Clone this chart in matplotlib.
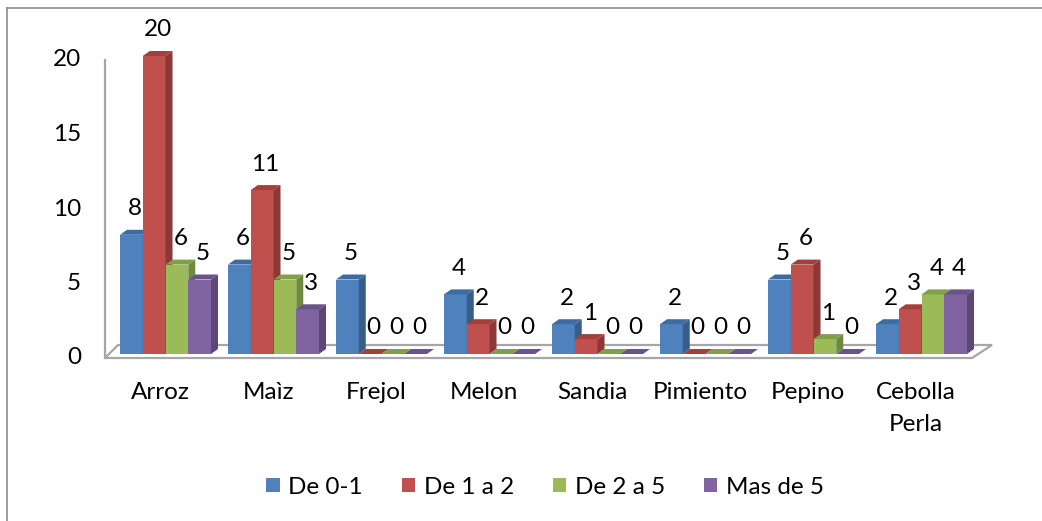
import numpy as np
import matplotlib.pyplot as plt
from matplotlib.patches import Polygon, Rectangle, Patch
from matplotlib.lines import Line2D

plt.rcParams['font.family'] = ['Lato', 'DejaVu Sans']

# datos
categorias = ['Arroz', 'Maìz', 'Frejol', 'Melon', 'Sandia', 'Pimiento', 'Pepino', 'Cebolla\nPerla']
series = ['De 0-1', 'De 1 a 2', 'De 2 a 5', 'Mas de 5']
de_0_1 = [8, 6, 5, 4, 2, 2, 5, 2]
de_1_2 = [20, 11, 0, 2, 1, 0, 6, 3]
de_2_5 = [6, 5, 0, 0, 0, 0, 1, 4]
mas_5 = [5, 3, 0, 0, 0, 0, 0, 4]
valores = [de_0_1, de_1_2, de_2_5, mas_5]

frente = ['#4F81BD', '#C0504D', '#9BBB59', '#8064A2']
lado = ['#385D8A', '#8C3836', '#71893F', '#5C4776']
arriba = ['#3D6CA3', '#A53F3C', '#7FA046', '#6A528A']

FS = 17.5

fig = plt.figure(figsize=(10.42, 5.21), dpi=100)
# y=0 en 354 px, y=20 en 56 px; x de -0.5 a 7.5 entre 111.5 y 975.5 px
ax = fig.add_axes([111.5 / 1042, (521 - 354) / 521, 864 / 1042, 298 / 521])
ax.set_xlim(-0.5, 7.5)
ax.set_ylim(0, 20)
ax.axis('off')

px_x = 1 / 108.0
px_y = 20 / 298.0
w = 22.75 * px_x
dx, dy = 7 * px_x, 5 * px_y

# suelo
x_l, x_r = (105 - 165.5) * px_x, (972 - 165.5) * px_x
bx_l, bx_r = (118 - 165.5) * px_x, (992 - 165.5) * px_x
y_f, y_b = -4 * px_y, 9 * px_y
ax.add_patch(Polygon([(x_l, y_f), (x_r, y_f), (bx_r, y_b), (bx_l, y_b)],
                     closed=True, facecolor='white', edgecolor='#A6A6A6', lw=1.6, clip_on=False, zorder=1))
ax.add_line(Line2D([x_l, x_l], [y_f, 20 - 4 * px_y], color='#A6A6A6', lw=1.6, clip_on=False, zorder=1))

# etiquetas eje y
for v in range(0, 21, 5):
    ax.text((81 - 165.5) * px_x, v - 4 * px_y, str(v), ha='right', va='center', fontsize=FS, clip_on=False)

z = 2
for i in range(len(categorias)):
    for s in range(4):
        h = valores[s][i]
        x0 = i - 2 * w + s * w
        if h > 0:
            ax.add_patch(Rectangle((x0, 0), w, h, facecolor=frente[s], edgecolor='none', clip_on=False, zorder=z))
            ax.add_patch(Polygon([(x0 + w, 0), (x0 + w + dx, dy), (x0 + w + dx, h + dy), (x0 + w, h)],
                                 closed=True, facecolor=lado[s], edgecolor='none', clip_on=False, zorder=z))
        ax.add_patch(Polygon([(x0, h), (x0 + w, h), (x0 + w + dx, h + dy), (x0 + dx, h + dy)],
                             closed=True, facecolor=arriba[s], edgecolor='none', clip_on=False, zorder=z))
        z += 1
        ax.text(x0 + w / 2 + dx / 2, h + 1.75, str(h), ha='center', va='center', fontsize=FS, clip_on=False, zorder=50)
    ax.text(i - 0.05, -28 * px_y, categorias[i], ha='center', va='top', fontsize=FS,
            linespacing=1.65, clip_on=False)

handles = [Patch(facecolor=frente[s], edgecolor='none') for s in range(4)]
fig.legend(handles, series, loc='center', bbox_to_anchor=(545 / 1042, 1 - 487 / 521), ncol=4, frameon=False,
           fontsize=FS, handlelength=0.55, handleheight=0.55, handletextpad=0.35, columnspacing=1.6)

# borde
fig.add_artist(Line2D([7 / 1042, 7 / 1042], [0, 1 - 8 / 521], color='#8C8C8C', lw=1.2))
fig.add_artist(Line2D([7 / 1042, 1], [1 - 8 / 521, 1 - 8 / 521], color='#8C8C8C', lw=1.2))

plt.savefig('out.png', dpi=100)
